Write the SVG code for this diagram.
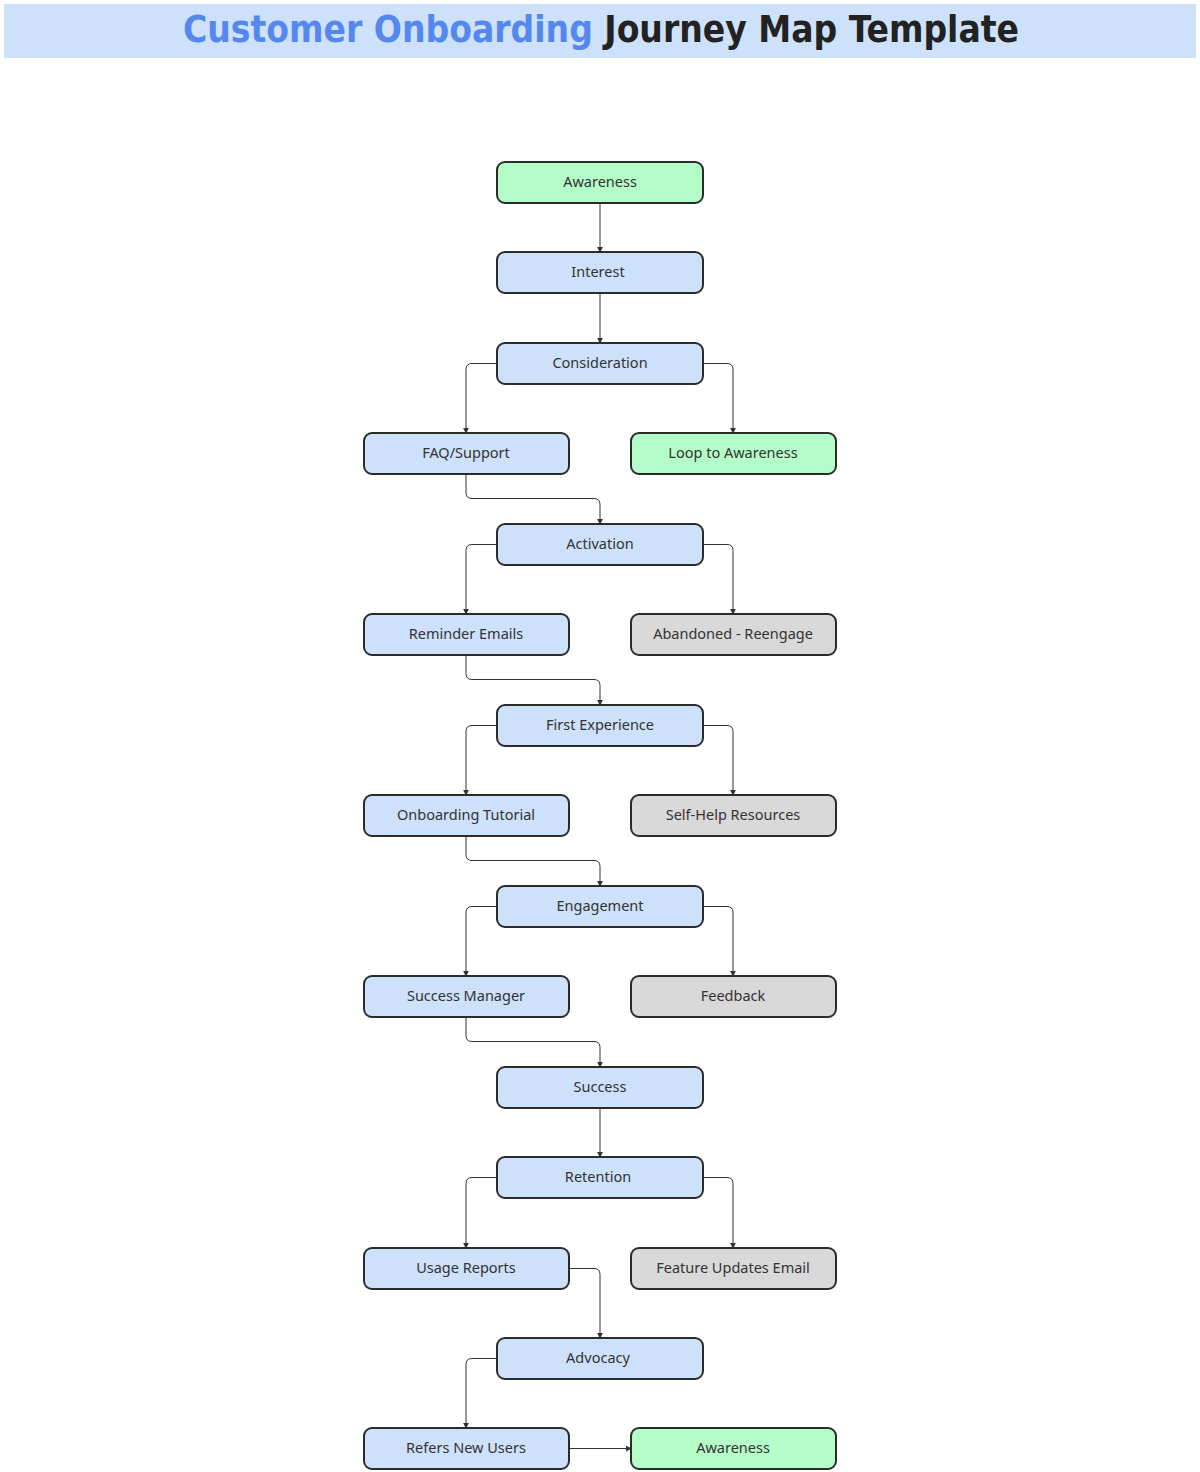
<svg xmlns="http://www.w3.org/2000/svg" width="1200" height="1472" viewBox="0 0 1200 1472">
<defs>
<style>
.n rect{stroke:#2b2b2b;stroke-width:2}
.b rect{fill:#cde1fa}
.g rect{fill:#b5fdc8}
.y rect{fill:#d9d9d9}
.n text{font-family:"Noto Sans","DejaVu Sans",sans-serif;font-size:14.5px;fill:#333;text-anchor:middle;dominant-baseline:central}
#edges path{fill:none;stroke:#333;stroke-width:1;marker-end:url(#ah)}
</style>
<marker id="ah" viewBox="0 0 8 8" refX="7" refY="4" markerWidth="6" markerHeight="6" orient="auto" markerUnits="userSpaceOnUse">
<path d="M0,0 L8,4 L0,8 z" fill="#333"/>
</marker>
</defs>
<rect x="4" y="4" width="1192" height="54" fill="#cde1fa"/>
<text x="601" y="42" text-anchor="middle" font-family="'DejaVu Sans Condensed','DejaVu Sans',sans-serif" font-weight="bold" font-size="38" textLength="836" lengthAdjust="spacingAndGlyphs"><tspan fill="#5588ee">Customer Onboarding</tspan><tspan fill="#222"> Journey Map Template</tspan></text>
<g id="edges">
<path d="M600,203 V252"/>
<path d="M600,293 V343"/>
<path d="M497,363.5 H472 Q466,363.5 466,369.5 V433"/>
<path d="M703,363.5 H727 Q733,363.5 733,369.5 V433"/>
<path d="M466,474 V492.5 Q466,498.5 472,498.5 H594 Q600,498.5 600,504.5 V524"/>
<path d="M497,544.5 H472 Q466,544.5 466,550.5 V614"/>
<path d="M703,544.5 H727 Q733,544.5 733,550.5 V614"/>
<path d="M466,655 V673.5 Q466,679.5 472,679.5 H594 Q600,679.5 600,685.5 V705"/>
<path d="M497,725.5 H472 Q466,725.5 466,731.5 V795"/>
<path d="M703,725.5 H727 Q733,725.5 733,731.5 V795"/>
<path d="M466,836 V854.5 Q466,860.5 472,860.5 H594 Q600,860.5 600,866.5 V886"/>
<path d="M497,906.5 H472 Q466,906.5 466,912.5 V976"/>
<path d="M703,906.5 H727 Q733,906.5 733,912.5 V976"/>
<path d="M466,1017 V1035.5 Q466,1041.5 472,1041.5 H594 Q600,1041.5 600,1047.5 V1067"/>
<path d="M600,1108 V1157"/>
<path d="M497,1177.5 H472 Q466,1177.5 466,1183.5 V1248"/>
<path d="M703,1177.5 H727 Q733,1177.5 733,1183.5 V1248"/>
<path d="M569,1268.5 H594 Q600,1268.5 600,1274.5 V1338"/>
<path d="M497,1358.5 H472 Q466,1358.5 466,1364.5 V1428"/>
<path d="M569,1448.5 H631"/>
</g>
<g id="n1" class="n g"><rect x="497" y="162" width="206" height="41" rx="8"/><text x="600" y="181">Awareness</text></g>
<g id="n2" class="n b"><rect x="497" y="252" width="206" height="41" rx="8"/><text x="598" y="271">Interest</text></g>
<g id="n3" class="n b"><rect x="497" y="343" width="206" height="41" rx="8"/><text x="600" y="362">Consideration</text></g>
<g id="n4" class="n b"><rect x="364" y="433" width="205" height="41" rx="8"/><text x="466" y="452">FAQ/Support</text></g>
<g id="n5" class="n g"><rect x="631" y="433" width="205" height="41" rx="8"/><text x="733" y="452">Loop to Awareness</text></g>
<g id="n6" class="n b"><rect x="497" y="524" width="206" height="41" rx="8"/><text x="600" y="543">Activation</text></g>
<g id="n7" class="n b"><rect x="364" y="614" width="205" height="41" rx="8"/><text x="466" y="633">Reminder Emails</text></g>
<g id="n8" class="n y"><rect x="631" y="614" width="205" height="41" rx="8"/><text x="733" y="633">Abandoned - Reengage</text></g>
<g id="n9" class="n b"><rect x="497" y="705" width="206" height="41" rx="8"/><text x="600" y="724">First Experience</text></g>
<g id="n10" class="n b"><rect x="364" y="795" width="205" height="41" rx="8"/><text x="466" y="814">Onboarding Tutorial</text></g>
<g id="n11" class="n y"><rect x="631" y="795" width="205" height="41" rx="8"/><text x="733" y="814">Self-Help Resources</text></g>
<g id="n12" class="n b"><rect x="497" y="886" width="206" height="41" rx="8"/><text x="600" y="905">Engagement</text></g>
<g id="n13" class="n b"><rect x="364" y="976" width="205" height="41" rx="8"/><text x="466" y="995">Success Manager</text></g>
<g id="n14" class="n y"><rect x="631" y="976" width="205" height="41" rx="8"/><text x="733" y="995">Feedback</text></g>
<g id="n15" class="n b"><rect x="497" y="1067" width="206" height="41" rx="8"/><text x="600" y="1086">Success</text></g>
<g id="n16" class="n b"><rect x="497" y="1157" width="206" height="41" rx="8"/><text x="598" y="1176">Retention</text></g>
<g id="n17" class="n b"><rect x="364" y="1248" width="205" height="41" rx="8"/><text x="466" y="1267">Usage Reports</text></g>
<g id="n18" class="n y"><rect x="631" y="1248" width="205" height="41" rx="8"/><text x="733" y="1267">Feature Updates Email</text></g>
<g id="n19" class="n b"><rect x="497" y="1338" width="206" height="41" rx="8"/><text x="598" y="1357">Advocacy</text></g>
<g id="n20" class="n b"><rect x="364" y="1428" width="205" height="41" rx="8"/><text x="466" y="1447">Refers New Users</text></g>
<g id="n21" class="n g"><rect x="631" y="1428" width="205" height="41" rx="8"/><text x="733" y="1447">Awareness</text></g>
</svg>
